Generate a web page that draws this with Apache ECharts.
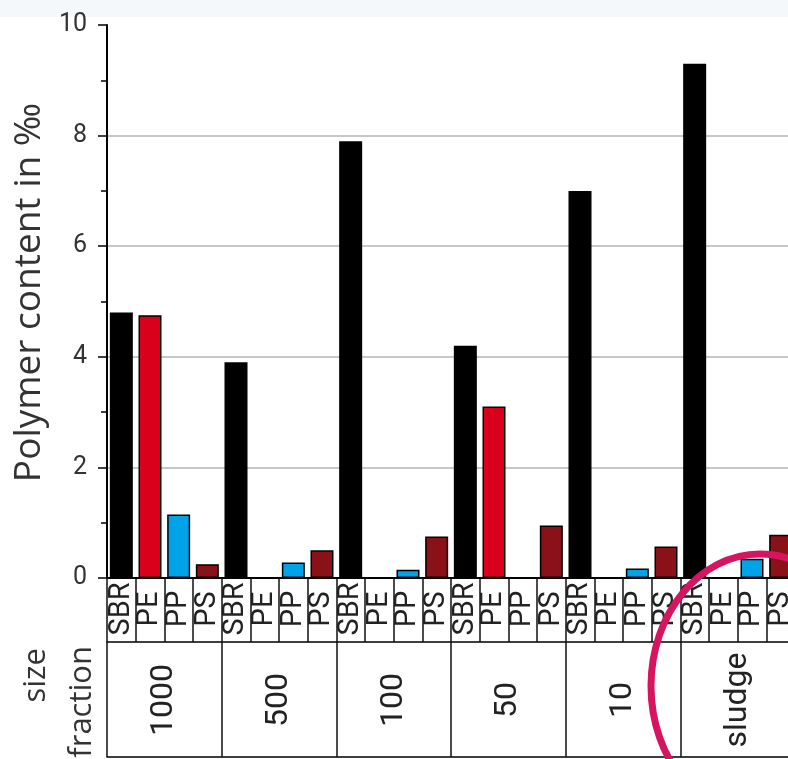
<!DOCTYPE html>
<html>
<head>
<meta charset="utf-8">
<script src="https://cdn.jsdelivr.net/npm/echarts@6/dist/echarts.min.js"></script>
<style>
  html, body { margin: 0; padding: 0; background: #fff; }
  #main { width: 788px; height: 759px; }
</style>
</head>
<body>
<div id="main"></div>
<script>
// size fractions and polymers
var groups = ['1000', '500', '100', '50', '10', 'sludge'];
var polymers = ['SBR', 'PE', 'PP', 'PS'];

// polymer content in ‰, one value per size fraction
var sbr = [4.8, 3.9, 7.9, 4.2, 7.0, 9.3];
var pe = [4.75, 0, 0, 3.1, 0, 0];
var pp = [1.15, 0.28, 0.15, 0, 0.17, 0.35];
var ps = [0.25, 0.5, 0.75, 0.95, 0.57, 0.78];

var yTicks = [0, 2, 4, 6, 8, 10];

var colors = ['#000000', '#d9001b', '#00a2e8', '#8b1118'];
var byPolymer = [sbr, pe, pp, ps];

// one bar per (fraction, polymer) slot
var slotNames = [];
var barData = [];
groups.forEach(function (g, gi) {
  polymers.forEach(function (p, pi) {
    slotNames.push(p);
    var v = byPolymer[pi][gi];
    barData.push({
      value: v === 0 ? '-' : v,
      itemStyle: { color: colors[pi] }
    });
  });
});

var myChart = echarts.init(document.getElementById('main'));
myChart.setOption({
  animation: false,
  // the plot runs a little past the right edge of the picture
  grid: { left: 107, top: 25, width: 688, height: 553, containLabel: false, outerBoundsMode: 'none' },
  xAxis: [
    {
      type: 'category',
      data: slotNames,
      position: 'bottom',
      axisLine: { onZero: false, lineStyle: { color: '#000', width: 2 } },
      axisTick: { show: true, interval: 0, length: 64, lineStyle: { color: '#111', width: 1.5 } },
      axisLabel: {
        interval: 0, rotate: 90, margin: 31, align: 'center', verticalAlign: 'middle',
        fontFamily: 'Roboto', fontSize: 29, color: '#222'
      }
    },
    {
      type: 'category',
      data: groups,
      position: 'bottom',
      offset: 64,
      axisLine: { onZero: false, lineStyle: { color: '#000', width: 1.5 } },
      axisTick: { show: true, interval: 0, length: 115, lineStyle: { color: '#111', width: 1.5 } },
      axisLabel: {
        interval: 0, rotate: 90, margin: 58, align: 'center', verticalAlign: 'middle',
        fontFamily: 'Roboto', fontSize: 32, color: '#222'
      }
    },
    {
      type: 'category',
      data: [''],
      position: 'bottom',
      offset: 179,
      axisLine: { onZero: false, lineStyle: { color: '#000', width: 1.5 } },
      axisTick: { show: false },
      axisLabel: { show: false }
    }
  ],
  yAxis: {
    type: 'value',
    min: yTicks[0],
    max: yTicks[yTicks.length - 1],
    interval: 2,
    name: 'Polymer content in ‰',
    nameLocation: 'middle',
    nameRotate: 90,
    nameGap: 58,
    nameTextStyle: { fontFamily: 'Open Sans', fontSize: 37, color: '#333', padding: [0, 0, 0, 18] },
    axisLine: { show: true, lineStyle: { color: '#000', width: 2 } },
    axisTick: { show: true, length: 9, lineStyle: { color: '#000', width: 1.5 } },
    minorTick: { show: true, splitNumber: 2, length: 6, lineStyle: { color: '#000', width: 1.5 } },
    axisLabel: { margin: 20, fontFamily: 'Roboto', fontSize: 25, color: '#333' },
    splitLine: {
      show: true,
      lineStyle: { color: ['#b4b4b4', '#b4b4b4', '#b4b4b4', '#b4b4b4', '#b4b4b4', 'rgba(0,0,0,0)'], width: 1.5 }
    }
  },
  series: [
    {
      type: 'bar',
      xAxisIndex: 0,
      barWidth: 23,
      data: barData,
      itemStyle: { borderColor: '#000', borderWidth: 1.5 }
    }
  ],
  graphic: [
    {
      type: 'rect', z: -10, silent: true,
      shape: { x: 0, y: 0, width: 788, height: 17 },
      style: { fill: '#f4f8fb' }
    },
    {
      type: 'text', x: 36, y: 648, rotation: Math.PI / 2,
      style: { text: 'size', fontFamily: 'Open Sans', fontSize: 31, fill: '#333', align: 'right', verticalAlign: 'middle' }
    },
    {
      type: 'text', x: 82, y: 646, rotation: Math.PI / 2,
      style: { text: 'fraction', fontFamily: 'Open Sans', fontSize: 31, fill: '#333', align: 'right', verticalAlign: 'middle' }
    },
    {
      type: 'ellipse', z: 100, silent: true,
      shape: { cx: 760, cy: 686, rx: 109, ry: 132 },
      style: { fill: 'none', stroke: '#d6145f', lineWidth: 7 }
    }
  ]
});
</script>
</body>
</html>
